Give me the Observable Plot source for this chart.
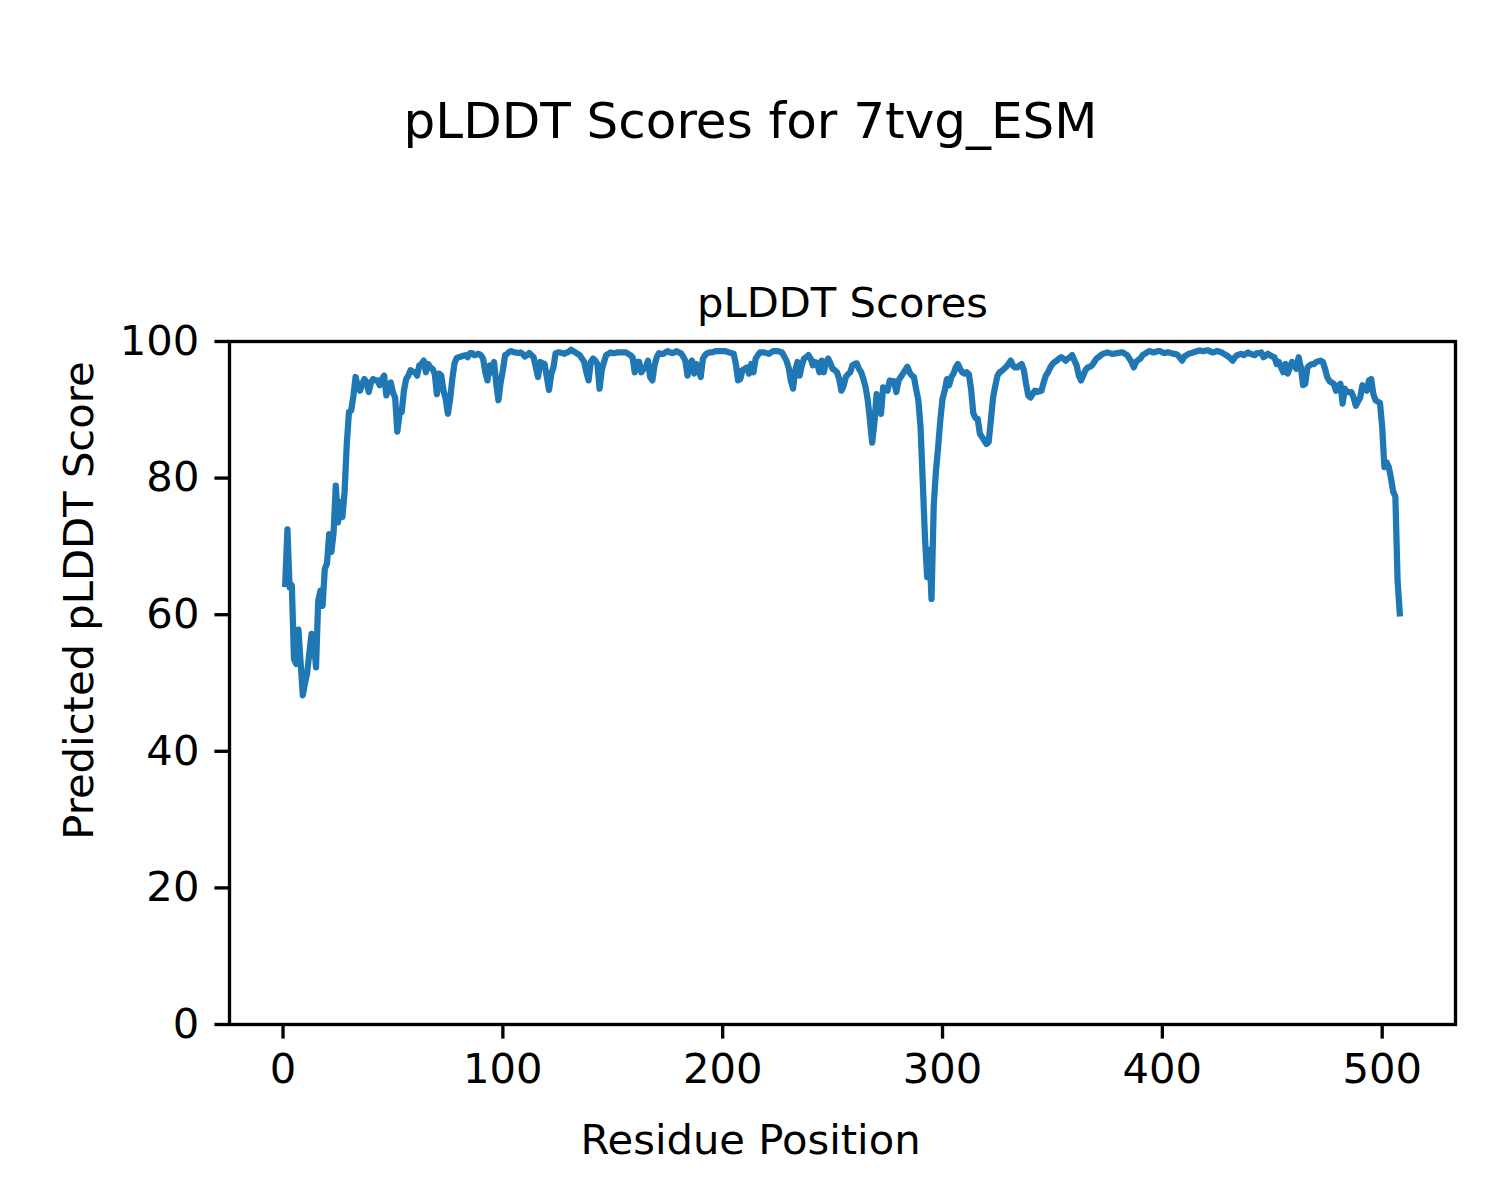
<!DOCTYPE html>
<html>
<head>
<meta charset="utf-8">
<script src="https://cdn.jsdelivr.net/npm/d3@7"></script>
<script src="https://cdn.jsdelivr.net/npm/@observablehq/plot@0.6"></script>
<style>
  html, body { margin: 0; padding: 0; background: white; }
  svg { display: block; }
</style>
</head>
<body>
<script>
const suptitle = "pLDDT Scores for 7tvg_ESM";
const axesTitle = "pLDDT Scores";
const xLabel = "Residue Position";
const yLabel = "Predicted pLDDT Score";
const xTicks = [0, 100, 200, 300, 400, 500];
const yTicks = [0, 20, 40, 60, 80, 100];

// pLDDT per residue (residues 1..508)
const scores = [
  64.5, 72.5, 64, 64.3, 53.5, 52.8, 57.8, 53, 48.2, 50,
  51.5, 54.5, 57.2, 56.5, 52.3, 62, 63.5, 61.3, 66.7, 67.5,
  71.8, 69.2, 72, 78.9, 73.5, 76.5, 74.3, 78, 85, 89.7,
  89.9, 92, 94.8, 93.5, 92.8, 93.8, 94.5, 94, 92.6, 94,
  94.5, 94.3, 94.3, 93.6, 94.5, 95, 92.1, 93.5, 94, 92.5,
  91.8, 86.8, 89.4, 89.7, 92.8, 94.5, 95, 95.8, 95.6, 95.5,
  95, 96.5, 96.7, 97.2, 95.5, 96.7, 96.2, 96, 95.3, 92.3,
  95.3, 95, 92.8, 91.6, 89.4, 91.5, 94.5, 96.8, 97.6, 97.7,
  97.8, 97.9, 98, 97.7, 98.3, 98.3, 98, 98.1, 98.2, 98,
  97.5, 95.5, 94.3, 96.5, 95.5, 97, 93.8, 91.4, 94, 95.8,
  98, 98.2, 98.5, 98.6, 98.4, 98.4, 98.3, 98.4, 98.2, 97.8,
  98, 98.3, 98, 97.7, 96.2, 94.8, 97, 96.8, 96.7, 94.8,
  92.9, 95.2, 96.2, 98.3, 98.4, 98.4, 98.3, 98.2, 98.4, 98.5,
  98.8, 98.6, 98.4, 98.2, 98, 97.5, 97, 95.5, 94.3, 97,
  97.5, 97.2, 96.7, 93.1, 95.8, 97, 98, 98.2, 98.4, 98.3,
  98.3, 98.4, 98.4, 98.4, 98.4, 98.4, 98.2, 98, 97.7, 95.5,
  97, 97, 95.5, 96, 96.2, 97.2, 94.8, 94.3, 96.5, 97.7,
  98.3, 98.2, 98.2, 98.4, 98.6, 98.4, 98.3, 98.4, 98.6, 98.4,
  98.3, 97.8, 97.2, 95, 96.7, 97.2, 95.3, 96.7, 96, 94.8,
  97.5, 98, 98.3, 98.4, 98.4, 98.5, 98.6, 98.6, 98.6, 98.6,
  98.6, 98.5, 98.4, 98.3, 98.2, 96.7, 94.3, 94.5, 95.8, 96,
  96.2, 95.3, 96.7, 95.5, 97.5, 98, 98.4, 98.4, 98.4, 98.3,
  98.2, 98.4, 98.6, 98.6, 98.6, 98.5, 98.4, 97.8, 97.2, 96.2,
  94.3, 93.1, 95.8, 97, 95, 96.5, 97.5, 97.7, 98, 97.5,
  96.5, 97, 96.8, 95.5, 97.2, 95.5, 97, 97.5, 96.8, 96,
  95.8, 95.5, 94.5, 92.8, 93.5, 94.8, 95.2, 95.5, 96.5, 96.7,
  96.8, 96, 95.5, 94.5, 93.3, 91.4, 88.4, 85.2, 88, 92.3,
  90.9, 89.4, 93.3, 93, 92.8, 94.3, 94.2, 94.2, 92.6, 94.3,
  94.8, 95.3, 95.8, 96.3, 95.5, 95, 94.8, 93, 91.4, 87.5,
  79.6, 71.4, 65.5, 69.5, 62.3, 76, 81, 84.5, 88.5, 91.6,
  92.8, 94.5, 93.6, 94.8, 95.3, 96.2, 96.7, 96, 95.5, 95.3,
  95.5, 95.2, 93, 89.5, 88.8, 88.7, 86.5, 86, 85.5, 85,
  85.3, 88.5, 91.8, 93.5, 95, 95.5, 95.7, 96, 96.3, 96.7,
  97.2, 96.5, 96.2, 96.2, 96.5, 96.7, 95.8, 93.8, 92.1, 91.8,
  92.3, 92.8, 92.6, 92.7, 92.8, 94, 95, 95.5, 96.2, 96.7,
  97, 97.2, 97.5, 97.7, 97.5, 97.2, 97.5, 97.7, 98, 97.2,
  96.5, 95, 94.3, 95, 95.8, 96.2, 96.3, 96.5, 97, 97.5,
  97.7, 98, 98.2, 98.3, 98.4, 98.3, 98.2, 98.2, 98.3, 98.3,
  98.4, 98.4, 98.2, 98, 97.5, 97, 96.2, 97, 97.3, 97.5,
  98, 98.2, 98.4, 98.6, 98.5, 98.4, 98.5, 98.6, 98.6, 98.4,
  98.3, 98.4, 98.4, 98.3, 98.2, 98.2, 98, 97.6, 97.2, 97.8,
  98, 98.2, 98.3, 98.4, 98.5, 98.6, 98.7, 98.6, 98.6, 98.7,
  98.7, 98.5, 98.4, 98.5, 98.6, 98.5, 98.4, 98.2, 98, 97.8,
  97.5, 97.2, 97.7, 98, 98.1, 98.2, 98, 98.2, 98.4, 98.2,
  98.1, 98, 98.3, 98.3, 98.4, 97.7, 97.9, 98.2, 98, 97.8,
  97.7, 96.7, 97, 96.2, 95.5, 96.7, 95.3, 96.2, 97, 96.5,
  96, 97.7, 96.2, 93.6, 93.8, 96.2, 96.5, 96.7, 96.7, 97,
  97.1, 97.2, 97, 96, 94.8, 94.2, 94, 93.8, 92.8, 93.5,
  93.8, 90.9, 93.1, 92.6, 92.6, 92.6, 91.8, 90.6, 91.2, 91.8,
  93.6, 93, 92.8, 94.3, 94.5, 92.3, 91.4, 91.2, 91, 87.5,
  81.6, 82.3, 81.6, 80, 78, 77.3, 65, 60.2
];
const residues = scores.map((_, i) => i + 1);

const data = residues.map((r, i) => ({residue: r, score: scores[i]}));
const xmin = d3.min(residues), xmax = d3.max(residues);
const xpad = (xmax - xmin) * 0.05;

const W = 1500, H = 1200;
const mL = 229, mR = 45, mT = 341, mB = 176;
const frameCx = (mL + (W - mR)) / 2;
const frameCy = (mT + (H - mB)) / 2;

const chart = Plot.plot({
  width: W,
  height: H,
  marginLeft: mL,
  marginRight: mR,
  marginTop: mT,
  marginBottom: mB,
  style: {
    fontFamily: "'DejaVu Sans', sans-serif",
    fontSize: "41.7px",
    color: "black",
    background: "white",
    overflow: "visible"
  },
  x: {domain: [xmin - xpad, xmax + xpad], label: null},
  y: {domain: [0, 100], label: null},
  marks: [
    Plot.line(data, {
      x: "residue", y: "score",
      stroke: "#1f77b4", strokeWidth: 6.25,
      strokeLinejoin: "round", strokeLinecap: "square"
    }),
    Plot.frame({stroke: "black", strokeWidth: 3.33}),
    Plot.axisX({ticks: xTicks, tickSize: 14.6, tickPadding: 14.6, strokeWidth: 3.33, label: null}),
    Plot.axisY({ticks: yTicks, tickSize: 14.6, tickPadding: 15.5, strokeWidth: 3.33, label: null}),
    Plot.text([suptitle], {
      frameAnchor: "top", text: d => d, lineAnchor: "bottom",
      dx: 750 - frameCx, dy: 137 - mT, fontSize: 50, fill: "black"
    }),
    Plot.text([axesTitle], {
      frameAnchor: "top", text: d => d, lineAnchor: "bottom",
      dy: -25, fontSize: 41.7, fill: "black"
    }),
    Plot.text([xLabel], {
      frameAnchor: "bottom", text: d => d, lineAnchor: "bottom",
      dx: 750 - frameCx, dy: 1153 - (H - mB), fontSize: 41.7, fill: "black"
    }),
    Plot.text([yLabel], {
      frameAnchor: "left", text: d => d, lineAnchor: "bottom", rotate: -90,
      textAnchor: "middle",
      dx: 92 - mL, dy: 600 - frameCy, fontSize: 41.7, fill: "black"
    })
  ]
});

document.body.appendChild(chart);
</script>
</body>
</html>
